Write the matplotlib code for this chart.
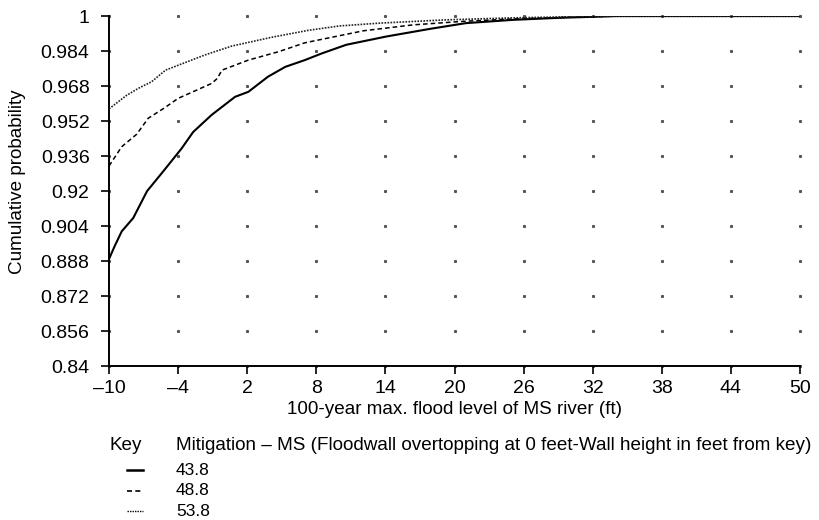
import matplotlib
matplotlib.use("Agg")
import matplotlib.pyplot as plt
from matplotlib.lines import Line2D
import numpy as np

plt.rcParams['font.family'] = ['Liberation Sans', 'DejaVu Sans']

# кумулятивні криві
x_438 = [-10, -9.5, -8.9, -7.9, -6.7, -5.3, -3.7, -2.7, -1.1, 0.94, 2.1, 3.8,
         5.3, 7.0, 8.5, 10.6, 14.1, 17.9, 21.0, 25.1, 29, 34, 50]
y_438 = [0.889, 0.895, 0.9016, 0.9077, 0.920, 0.929, 0.9395, 0.947, 0.9548,
         0.9631, 0.9654, 0.9723, 0.9768, 0.9799, 0.9830, 0.9869, 0.9907,
         0.9942, 0.9968, 0.9983, 0.9992, 1.0, 1.0]

x_488 = [-10, -8.9, -7.6, -6.6, -5.2, -4.0, -1.1, -0.6, -0.2, 2.1, 4.7, 7.0,
         9.5, 12.1, 16.4, 20.7, 25, 30, 34, 50]
y_488 = [0.9315, 0.9403, 0.946, 0.9533, 0.958, 0.9624, 0.9692, 0.9715, 0.9753,
         0.9799, 0.9837, 0.9878, 0.9905, 0.9933, 0.996, 0.9976, 0.9987,
         0.9995, 1.0, 1.0]

x_538 = [-10, -8.5, -7.45, -6.3, -5.1, -1.7, 0.65, 4.1, 7.3, 10, 13.5, 19.3,
         25, 30, 34, 50]
y_538 = [0.9576, 0.9637, 0.967, 0.970, 0.9753, 0.9822, 0.9863, 0.9903, 0.9935,
         0.9955, 0.9968, 0.9983, 0.9992, 0.9997, 1.0, 1.0]

key_labels = ["43.8", "48.8", "53.8"]
key_styles = ["-", (0, (3, 2)), (0, (1, 0.8))]

x_ticks = list(range(-10, 51, 6))
y_ticks = [0.84, 0.856, 0.872, 0.888, 0.904, 0.92, 0.936, 0.952, 0.968, 0.984, 1]
y_tick_labels = ["0.84", "0.856", "0.872", "0.888", "0.904", "0.92", "0.936",
                 "0.952", "0.968", "0.984", "1"]

fig = plt.figure(figsize=(8.2, 5.2), dpi=100)
ax = fig.add_axes([0.133, 0.296, 0.8426, 0.673])

# сітка з крапок на перетинах поділок
gx, gy = np.meshgrid(x_ticks, y_ticks)
ax.plot(gx.ravel(), gy.ravel(), linestyle='none', marker='s', markersize=1.2,
        color='#555555', clip_on=False, zorder=1)

ax.plot(x_438, y_438, color='black', lw=1.5, linestyle=key_styles[0], zorder=3)
ax.plot(x_488, y_488, color='black', lw=1.1, linestyle=key_styles[1], zorder=3)
ax.plot(x_538, y_538, color='#222222', lw=1.2, linestyle=key_styles[2], zorder=3)

ax.set_xlim(-10, 50)
ax.set_ylim(0.84, 1)
ax.set_xticks(x_ticks)
ax.set_xticklabels([str(v).replace('-', '\u2013') for v in x_ticks])
ax.set_yticks(y_ticks)
ax.set_yticklabels(y_tick_labels)
ax.tick_params(direction='out', length=6, width=1.2, labelsize=14, pad=4)
ax.tick_params(axis='y', pad=8)
for side in ['top', 'right']:
    ax.spines[side].set_visible(False)
for side in ['left', 'bottom']:
    ax.spines[side].set_linewidth(1.4)

ax.set_xlabel("100-year max. flood level of MS river (ft)", fontsize=13.6, labelpad=3)
ax.set_ylabel("Cumulative probability", fontsize=13.6)
ax.yaxis.set_label_coords(-0.12, 0.526)

# ключ під графіком
fig.text(0.133, 0.144, "Key", fontsize=13.6, va='center')
fig.text(0.2146, 0.144,
         "Mitigation \u2013 MS (Floodwall overtopping at 0 feet-Wall height in feet from key)",
         fontsize=13.6, va='center')
rows = [0.096, 0.0565, 0.017]
widths = [1.8, 1.2, 1.0]
for lab, ls, yy, w in zip(key_labels, key_styles, rows, widths):
    fig.add_artist(Line2D([0.155, 0.175], [yy, yy], transform=fig.transFigure,
                          color='black', lw=w, linestyle=ls))
    fig.text(0.2146, yy, lab, fontsize=12.5, va='center')

fig.savefig("out.png", dpi=100)
